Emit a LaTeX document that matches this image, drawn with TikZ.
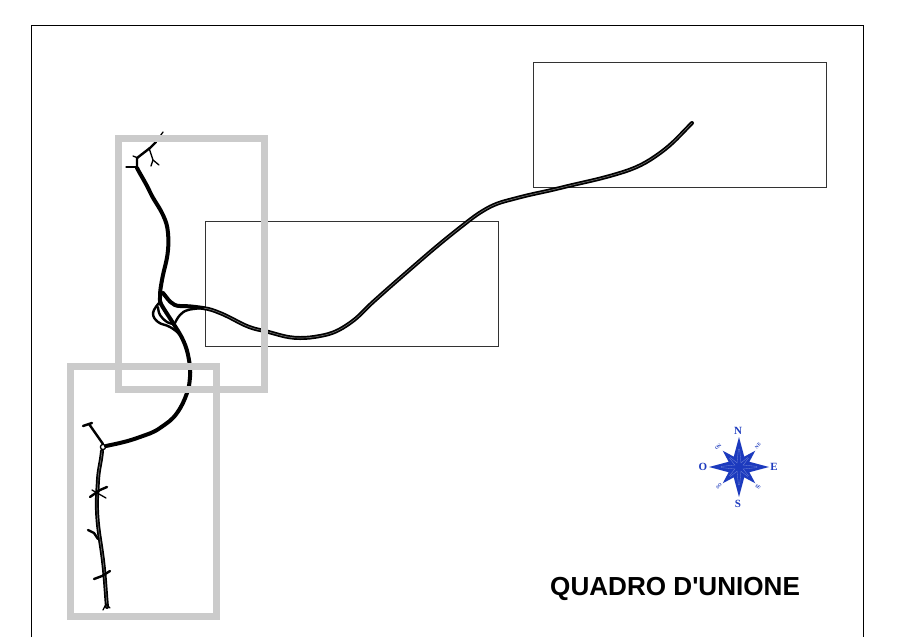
\documentclass[tikz,border=0pt]{standalone}
\usepackage{fontspec}
\newfontfamily\titlefont{Liberation Sans}
\newfontfamily\serifcomp{Liberation Serif}
\definecolor{roseblue}{RGB}{28,58,190}
\definecolor{rosepale}{RGB}{110,130,215}
\definecolor{sheetgrey}{RGB}{203,203,203}
\tikzset{
  frameline/.style={draw=black,line width=0.9pt},
  thinbox/.style={draw=black!80,line width=0.9pt},
  sheetbox/.style={draw=sheetgrey,line width=7pt,line join=miter},
  road/.style={draw=black,line width=4pt,line cap=round,line join=round},
  roadcore/.style={draw=white!45!black,line width=0.6pt,line cap=round},
  ramp/.style={draw=black,line width=2.4pt,line cap=round,line join=round},
  spur/.style={draw=black,line width=1.3pt,line cap=round,line join=round},
  star/.style={fill=roseblue,draw=none},
  cardinal/.style={text=roseblue,font=\serifcomp\bfseries\fontsize{11}{11}\selectfont,inner sep=0pt},
  minor/.style={text=roseblue,font=\serifcomp\bfseries\fontsize{4.6}{5}\selectfont,inner sep=0pt},
  title/.style={font=\titlefont\bfseries\fontsize{26.1}{28}\selectfont,inner sep=0pt}
}
\def\mainroad{(692,123) to[out=225,in=36] (660,153) to[out=216,in=17] (620,173) to[out=197,in=14] (560,188) to[out=194,in=15] (517,198) to[out=195,in=30] (486,209) to[out=210,in=38] (462,226) to[out=218,in=41] (407,272) to[out=221,in=42] (373,302) to[out=222,in=35] (350,323) to[out=215,in=10] (320,336) to[out=190,in=0] (300,338) to[out=180,in=-11] (260,330) to[out=169,in=-22] (220,313) to[out=158,in=-8] (203,308)}
\def\southroad{(102,451) to[out=-95,in=87] (98,480) to[out=-93,in=92] (97,510) to[out=-88,in=98] (102,553) to[out=-82,in=95] (107,607)}
\begin{document}
\begin{tikzpicture}[x=1pt,y=-1pt]
\useasboundingbox (0,0) rectangle (901,637);
\fill[white] (0,0) rectangle (901,637);
% sheet frame, its lower edge is off the page
\draw[frameline] (31.5,637) -- (31.5,25.5) -- (863.5,25.5) -- (863.5,637);
% thin boxes
\draw[thinbox] (533,62.5) rectangle (826,187);
\draw[thinbox] (205.5,221.5) rectangle (498,346.5);
% main road
\path[road] \mainroad to[out=172,in=0] (180,306) to[out=180,in=-50] (163,293);
\path[roadcore] \mainroad;
% north branch
\path[road] (137,168) to[out=-62,in=115] (150,192) to[out=-65,in=115] (163,215) to[out=-65,in=95] (168,233) to[out=-85,in=85] (168,250) to[out=-95,in=80] (162,280) to[out=-100,in=90] (160,297) to[out=-90,in=120] (161,304);
% south branch through the junction
\path[road] (161,304) to[out=-60,in=122] (173,323) to[out=-58,in=115] (183,340) to[out=-65,in=100] (189,360) to[out=-80,in=85] (190,377) to[out=-95,in=70] (187,393) to[out=-110,in=55] (177,413) to[out=-125,in=35] (160,428) to[out=-145,in=20] (140,437) to[out=-160,in=12] (106,446);
% junction ramps
\path[ramp] plot[smooth,tension=0.7] coordinates {(159,303) (153,313) (158,322) (170,327) (180,335) (185,345)};
\path[ramp] plot[smooth,tension=0.7] coordinates {(158,307) (160,315) (167,322) (174,324)};
\path[ramp] plot[smooth,tension=0.7] coordinates {(175,323) (180,315) (188,310) (203,308)};
% north end spurs
\path[road,line width=2.4pt] (137,168) -- (137,158) -- (150,148) -- (156,142);
\path[spur] (156,142) -- (163,132);
\path[spur] (126,167) -- (137,167);
\path[spur] (133,156) -- (138,158);
\path[spur] (149,148) -- (153,160) -- (151,166);
\path[spur] (153,160) -- (159,165);
% south section
\path[ramp] (83,426) -- (92,423);
\path[ramp] (89,424) -- (103,444);
\draw[black,line width=1.3pt] (103,447) circle (2.6pt);
\path[road] \southroad;
\path[roadcore] \southroad;
\path[ramp] (90,497) -- (100,490) -- (107,487);
\path[spur] (92,490) -- (106,498);
\path[ramp] (88,530) -- (94,533) -- (98,539);
\path[ramp] (94,579) -- (102,576) -- (110,571);
\path[spur] (103,610) -- (106,604) -- (110,608);
% grey sheet boxes lie over the road
\draw[sheetbox] (118.5,138) rectangle (264.5,389.5);
\draw[sheetbox] (70.5,366) rectangle (216.5,616.5);
% compass rose
\begin{scope}[shift={(739,467)}]
  \foreach \a in {45,135,225,315}{
    \fill[star,rotate=\a] (23,0) -- (0,-7) -- (0,7) -- cycle;
  }
  \foreach \a in {0,90,180,270}{
    \fill[star,rotate=\a] (30,0) -- (0,-8) -- (0,8) -- cycle;
  }
  \foreach \a in {0,90,180,270}{
    \draw[rosepale,line width=0.35pt,rotate=\a] (4,2) -- (18,0.6) (4,-2) -- (18,-0.6);
  }
  \foreach \a in {45,135,225,315}{
    \draw[rosepale,line width=0.35pt,rotate=\a] (4,1.6) -- (13,0.5) (4,-1.6) -- (13,-0.5);
  }
\end{scope}
\node[cardinal] (n) at (738,431) {N};
\node[cardinal] (s) at (738,503.5) {S};
\node[cardinal] (o) at (703,467) {O};
\node[cardinal] (e) at (774,467) {E};
\node[minor,rotate=-135] (no) at (718,447) {NO};
\node[minor,rotate=45] (ne) at (758,446) {NE};
\node[minor,rotate=45] (so) at (719,486) {SO};
\node[minor,rotate=-45] (se) at (758,487) {SE};
\node[title,anchor=west] (t) at (550,589) {QUADRO D'UNIONE};
\end{tikzpicture}
\end{document}
